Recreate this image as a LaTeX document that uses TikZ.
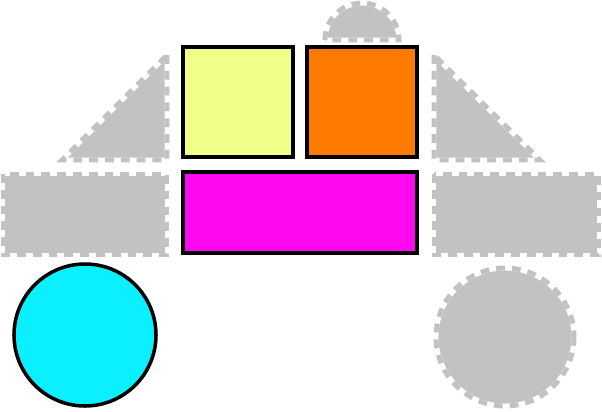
\documentclass[tikz,border=0pt]{standalone}
\usepackage{xcolor}
\usepackage{tikz}
\definecolor{paleyellow}{RGB}{240,255,136}
\definecolor{brightorange}{RGB}{255,122,0}
\definecolor{brightmagenta}{RGB}{255,10,240}
\definecolor{brightcyan}{RGB}{10,240,255}
\definecolor{ghostgray}{RGB}{194,194,194}
\tikzstyle{part} = [draw=black,line width=3pt]
\tikzstyle{ghost} = [fill=ghostgray,draw=white,line width=4.2pt,
  postaction={draw=ghostgray,line width=4.2pt,dash pattern=on 7.5pt off 6pt}]

\begin{document}
\begin{tikzpicture}[x=0.03cm,y=-0.03cm]
    \useasboundingbox (0,0) rectangle (602,412);
    % grey parts
    \draw [ghost] (325,40) arc (180:360:37) -- cycle;
    \draw [ghost] (167,55) -- (167,160) -- (62,160) -- cycle;
    \draw [ghost] (434,55) -- (434,160) -- (540,160) -- cycle;
    \draw [ghost] (3,174) rectangle (167,255);
    \draw [ghost] (434,174) rectangle (599,255);
    \draw [ghost] (505,337) circle (69);
    % coloured parts
    \draw [part,fill=paleyellow] (183,47) rectangle (293,157);
    \draw [part,fill=brightorange] (307,47) rectangle (417,157);
    \draw [part,fill=brightmagenta] (183,172) rectangle (417,253);
    \draw [part,fill=brightcyan] (85,335) circle (71);
\end{tikzpicture}
\end{document}
